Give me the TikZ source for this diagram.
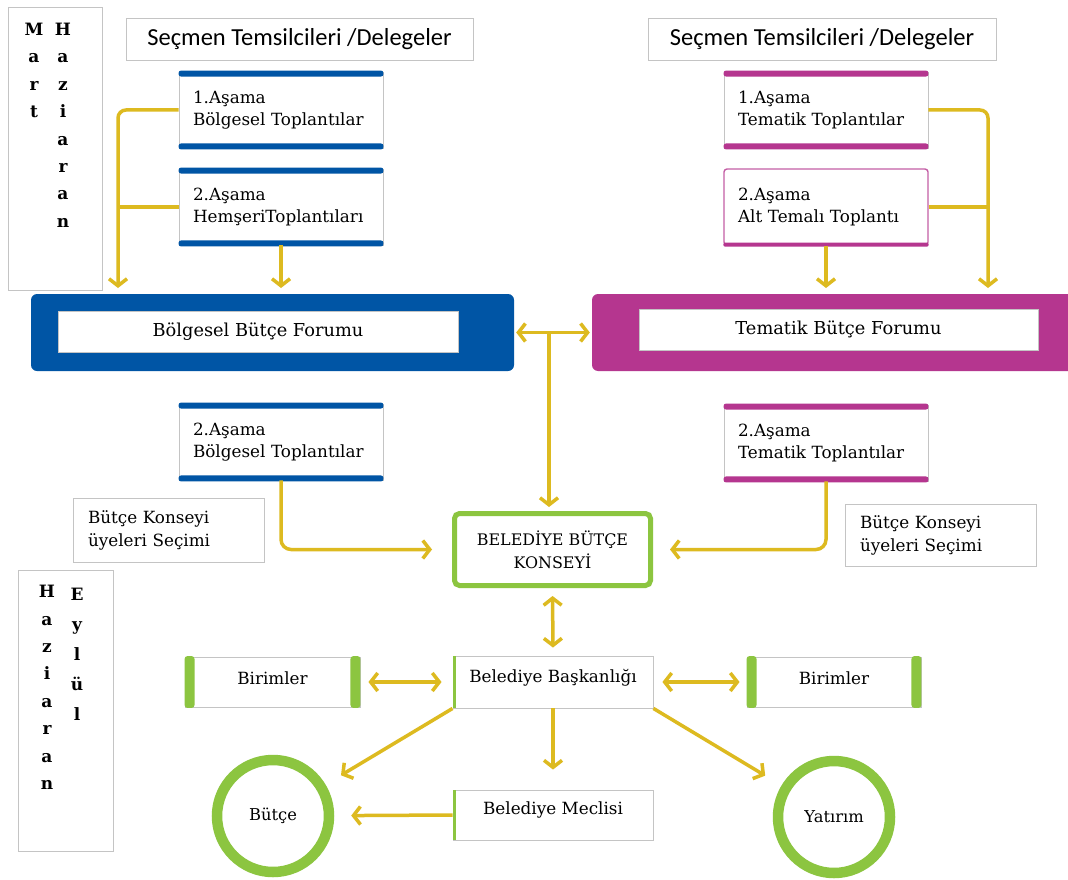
\documentclass[tikz,border=0pt]{standalone}
\usepackage{fontspec}
\setmainfont{DejaVu Serif}
\newfontfamily\hdfont{Carlito}
\usetikzlibrary{arrows.meta}
\definecolor{bluec}{HTML}{0055A5}
\definecolor{magc}{HTML}{B5368F}
\definecolor{greenc}{HTML}{8CC540}
\definecolor{yelc}{HTML}{DDBA20}
\definecolor{grayb}{HTML}{C4C4C4}
\newcommand\tbbars[2]{%
  \fill[#2, rounded corners=2.5pt] ([yshift=1pt]#1.north west) rectangle ([yshift=-5pt]#1.north east);
  \fill[#2, rounded corners=2.5pt] ([yshift=5pt]#1.south west) rectangle ([yshift=-1pt]#1.south east);}
\newcommand\sidebars[1]{%
  \fill[greenc, rounded corners=3pt] ([yshift=0.5pt]#1.north west) rectangle ([xshift=10pt,yshift=-0.5pt]#1.south west);
  \fill[greenc, rounded corners=3pt] ([xshift=-10pt,yshift=0.5pt]#1.north east) rectangle ([yshift=-0.5pt]#1.south east);}
\begin{document}
\begin{tikzpicture}[x=1pt,y=-1pt,
  box/.style={draw=grayb, line width=0.9pt, fill=white, inner sep=0pt},
  stg/.style={box, align=left, inner xsep=14pt, text width=176pt, minimum height=76pt, font=\fontsize{16.8}{22.5}\selectfont},
  txt/.style={font=\fontsize{16.8}{23}\selectfont},
  vert/.style={anchor=north, inner sep=0pt, align=center, font=\bfseries\fontsize{17}{27.4}\selectfont},
  conn/.style={draw=yelc, line width=3.5pt},
  arr/.style={-{Straight Barb[length=7pt,width=18pt]}},
  dbl/.style={{Straight Barb[length=7pt,width=18pt]}-{Straight Barb[length=7pt,width=18pt]}},
  ring/.style={circle, draw=greenc, line width=10.5pt, fill=white, minimum size=112pt, inner sep=0pt, font=\fontsize{16.3}{18}\selectfont}
]
\useasboundingbox (0,0) rectangle (1068,880);
\fill[white] (0,0) rectangle (1068,880);

% month boxes
\node[box, minimum width=94pt, minimum height=283pt] (M1) at (55,148.5) {};
\node[vert] (m1a) at (34,23) {M\\a\\r\\t};
\node[vert] (m1b) at (63,23) {H\\a\\z\\i\\a\\r\\a\\n};
\node[box, minimum width=95pt, minimum height=281pt] (M2) at (65.5,710.5) {};
\node[vert] (m2a) at (47,585) {H\\a\\z\\i\\a\\r\\a\\n};
\node[vert, font=\bfseries\fontsize{17}{30}\selectfont] (m2b) at (77,588) {E\\y\\l\\ü\\l};

% headers
\node[box, minimum width=347pt, minimum height=42pt, font=\hdfont\fontsize{24.5}{28}\selectfont] (HL) at (299.5,39) {Seçmen Temsilcileri /Delegeler};
\node[box, minimum width=348pt, minimum height=42pt, font=\hdfont\fontsize{24.5}{28}\selectfont] (HR) at (822,39) {Seçmen Temsilcileri /Delegeler};

% stage boxes
\node[stg] (L1) at (281,110) {1.Aşama\\Bölgesel Toplantılar};
\tbbars{L1}{bluec}
\node[stg] (L2) at (281,207) {2.Aşama\\HemşeriToplantıları};
\tbbars{L2}{bluec}
\node[stg] (R1) at (826,110) {1.Aşama\\Tematik Toplantılar};
\tbbars{R1}{magc}
\node[stg, draw=magc!80, line width=1.4pt, rounded corners=3pt] (R2) at (826,207) {2.Aşama\\Alt Temalı Toplantı};
\fill[magc, rounded corners=2pt] ([yshift=3pt]R2.south west) rectangle ([yshift=-1pt]R2.south east);
\node[stg] (LB) at (281,442) {2.Aşama\\Bölgesel Toplantılar};
\tbbars{LB}{bluec}
\node[stg] (RB) at (826,443) {2.Aşama\\Tematik Toplantılar};
\tbbars{RB}{magc}

% forums
\node[fill=bluec, rounded corners=6pt, minimum width=483pt, minimum height=77pt, inner sep=0pt] (FL) at (272.5,332.5) {};
\node[box, minimum width=400pt, minimum height=41pt, font=\fontsize{17.8}{20}\selectfont] (FLt) at (258,331.5) {Bölgesel Bütçe Forumu};
\begin{scope}
\clip (0,0) rectangle (1068,880);
\node[fill=magc, rounded corners=6pt, minimum width=490pt, minimum height=77pt, inner sep=0pt] (FR) at (837,332.5) {};
\end{scope}
\node[box, minimum width=399pt, minimum height=41pt, font=\fontsize{17.8}{20}\selectfont] (FRt) at (838.5,329.5) {Tematik Bütçe Forumu};

% council
\node[draw=greenc, line width=5pt, fill=white, rounded corners=5pt, minimum width=196pt, minimum height=72pt, inner sep=0pt, align=center, font=\fontsize{15.9}{23}\selectfont] (BBK) at (552.5,549.5) {BELEDİYE BÜTÇE\\KONSEYİ};
\node[box, align=left, inner xsep=15pt, text width=161pt, minimum height=64pt, txt] (KL) at (168.5,530) {Bütçe Konseyi\\üyeleri Seçimi};
\node[box, align=left, inner xsep=15pt, text width=161pt, minimum height=62pt, txt] (KR) at (940.5,535) {Bütçe Konseyi\\üyeleri Seçimi};

% bottom
\node[box, minimum width=175pt, minimum height=50pt, txt] (BL) at (272.5,682) {};
\sidebars{BL}
\node[txt, anchor=center] (BLt) at ([yshift=4pt]BL.center) {Birimler};
\node[box, minimum width=174pt, minimum height=50pt, txt] (BR) at (834,682) {};
\sidebars{BR}
\node[txt, anchor=center] (BRt) at ([yshift=4pt]BR.center) {Birimler};
\node[box, minimum width=200pt, minimum height=52pt, txt] (BK) at (553,682) {};
\fill[greenc] (BK.north west) rectangle ([xshift=3pt]BK.south west);
\node[txt, anchor=center] (BKt) at ([yshift=4pt]BK.center) {Belediye Başkanlığı};
\node[box, minimum width=200pt, minimum height=50pt, txt] (MC) at (553,815) {};
\fill[greenc] (MC.north west) rectangle ([xshift=3pt]MC.south west);
\node[txt, anchor=center] (MCt) at ([yshift=5pt]MC.center) {Belediye Meclisi};
\node[ring] (C1) at (273,816) {Bütçe};
\node[ring] (C2) at (834,817) {Yatırım};

% connectors
\coordinate (lx) at (118,288);
\draw[conn, arr, rounded corners=8pt] (L1.west) -| (lx);
\draw[conn] (L2.west) -- (L2.west -| lx);
\draw[conn, arr] (L2.south) -- (L2.south |- lx);
\coordinate (rx) at (988,288);
\draw[conn, arr, rounded corners=8pt] (R1.east) -| (rx);
\draw[conn] (R2.east) -- (R2.east -| rx);
\draw[conn, arr] (R2.south) -- (R2.south |- rx);

\draw[conn, dbl, shorten <=2pt, shorten >=2pt] (FL.east) -- (FR.west);
\coordinate (fj) at (549,332.5);
\draw[conn, arr, shorten >=4pt] (fj) -- (fj |- BBK.north);

\draw[conn, arr, rounded corners=10pt, shorten >=20pt] (LB.south) |- (BBK.west);
\draw[conn, arr, rounded corners=10pt, shorten >=17pt] (RB.south) |- (BBK.east);

\draw[conn, dbl, shorten <=8pt, shorten >=8pt] (BBK.south) -- (BK.north);
\draw[conn, dbl, shorten <=8pt, shorten >=11pt] (BL.east) -- (BK.west);
\draw[conn, dbl, shorten <=9pt, shorten >=7pt] (BK.east) -- (BR.west);
\draw[conn, arr, shorten >=18pt] (BK.south west) -- (C1);
\draw[conn, arr, shorten >=20pt] (BK.south) -- (MC.north);
\draw[conn, arr, shorten >=17pt] (MC.west) -- (C1);
\draw[conn, arr, shorten >=19pt] (BK.south east) -- (C2);
\end{tikzpicture}
\end{document}
